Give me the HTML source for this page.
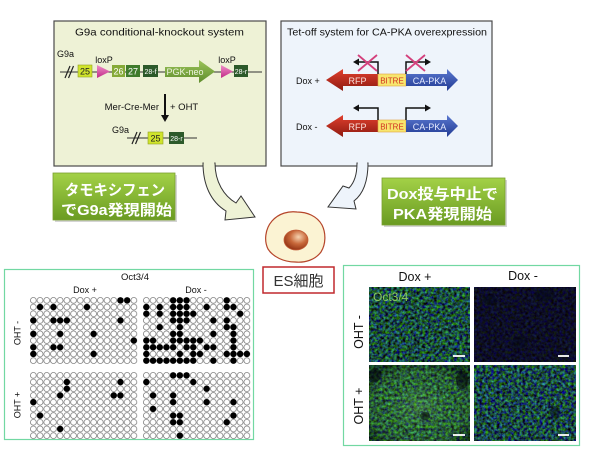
<!DOCTYPE html>
<html><head><meta charset="utf-8"><style>
html,body{margin:0;padding:0;background:#fff;}
svg{display:block;}
</style></head><body>
<svg width="600" height="452" viewBox="0 0 600 452" xmlns="http://www.w3.org/2000/svg" font-family="'Liberation Sans', Arial, sans-serif">
<defs>
  <pattern id="cp" width="1" height="1" patternUnits="userSpaceOnUse"><circle cx="0.5" cy="0.5" r="0.44" fill="#fff" stroke="#6a6a6a" stroke-width="0.1"/></pattern>
  <linearGradient id="gl" x1="0" y1="0" x2="0" y2="1"><stop offset="0" stop-color="#a3d147"/><stop offset="1" stop-color="#6a9b22"/></linearGradient>
  <linearGradient id="red" x1="0" y1="0" x2="0" y2="1"><stop offset="0" stop-color="#e0402e"/><stop offset="1" stop-color="#8e1a10"/></linearGradient>
  <linearGradient id="blue" x1="0" y1="0" x2="0" y2="1"><stop offset="0" stop-color="#5a78d0"/><stop offset="1" stop-color="#213a92"/></linearGradient>
  <linearGradient id="pgk" x1="0" y1="0" x2="0" y2="1"><stop offset="0" stop-color="#9cc45a"/><stop offset="1" stop-color="#5e8c2c"/></linearGradient>
  <linearGradient id="pink" x1="0" y1="0" x2="0" y2="1"><stop offset="0" stop-color="#f090c8"/><stop offset="1" stop-color="#c02a88"/></linearGradient>
  <radialGradient id="nuc" cx="0.6" cy="0.35" r="0.7"><stop offset="0" stop-color="#f6d2b0"/><stop offset="0.5" stop-color="#c8683a"/><stop offset="1" stop-color="#8e2e10"/></radialGradient>
  <filter id="t1" x="0" y="0" width="1" height="1" color-interpolation-filters="sRGB"><feTurbulence type="fractalNoise" baseFrequency="0.35" numOctaves="3" seed="2"/><feColorMatrix values="0.3 0 0 0 -0.05  1.2 0 0 0 -0.3  0 1.2 0 0 -0.35  0 0 0 0 1"/></filter>
  <filter id="t2" x="0" y="0" width="1" height="1" color-interpolation-filters="sRGB"><feTurbulence type="fractalNoise" baseFrequency="0.35" numOctaves="3" seed="7"/><feColorMatrix values="0.1 0 0 0 0  0.25 0 0 0 -0.07  0 0.5 0 0 -0.1  0 0 0 0 1"/></filter>
  <filter id="t3" x="0" y="0" width="1" height="1" color-interpolation-filters="sRGB"><feTurbulence type="fractalNoise" baseFrequency="0.35" numOctaves="3" seed="11"/><feColorMatrix values="0.35 0 0 0 -0.05  1.2 0 0 0 -0.25  0 0.8 0 0 -0.2  0 0 0 0 1"/></filter>
  <filter id="t4" x="0" y="0" width="1" height="1" color-interpolation-filters="sRGB"><feTurbulence type="fractalNoise" baseFrequency="0.35" numOctaves="3" seed="17"/><feColorMatrix values="0.3 0 0 0 -0.05  1.2 0 0 0 -0.32  0 1.2 0 0 -0.32  0 0 0 0 1"/></filter>
  <radialGradient id="blc" cx="0.5" cy="0.55" r="0.6"><stop offset="0" stop-color="#9ad08a" stop-opacity="0.25"/><stop offset="0.6" stop-color="#7ab870" stop-opacity="0.08"/><stop offset="1" stop-color="#000" stop-opacity="0.35"/></radialGradient>
</defs>

<!-- Top-left box -->
<rect x="54" y="21" width="212" height="145" fill="#eef2d6" stroke="#4a4a4a" stroke-width="1.2"/>
<text x="159.5" y="35.5" font-size="10.5" text-anchor="middle" textLength="169" lengthAdjust="spacingAndGlyphs" fill="#111">G9a conditional-knockout system</text>
<text x="57" y="57" font-size="9" fill="#111">G9a</text>
<line x1="60" y1="72" x2="262" y2="72" stroke="#333" stroke-width="1"/>
<line x1="65" y1="78" x2="70" y2="66" stroke="#222" stroke-width="1.2"/><line x1="68.5" y1="78" x2="73.5" y2="66" stroke="#222" stroke-width="1.2"/>
<rect x="78" y="65" width="14" height="12" fill="#d0e42c" stroke="#90a020" stroke-width="0.6"/>
<text x="85" y="74.5" font-size="9" text-anchor="middle" fill="#222">25</text>
<polygon points="97,65 110,71.5 97,78" fill="url(#pink)"/>
<text x="104" y="63" font-size="9" text-anchor="middle" fill="#111">loxP</text>
<rect x="112" y="65" width="13" height="12" fill="#86aa38"/>
<text x="118.5" y="74.5" font-size="9" text-anchor="middle" fill="#fff">26</text>
<rect x="126" y="65" width="14" height="12" fill="#3f7b2c"/>
<text x="133" y="74.5" font-size="9" text-anchor="middle" fill="#fff">27</text>
<rect x="143" y="65" width="15" height="12" fill="#2c5a2a"/>
<text x="150.5" y="74" font-size="7" text-anchor="middle" fill="#fff">28-f</text>
<polygon points="165,67 199,67 199,60 215,71.5 199,83 199,77 165,77" fill="url(#pgk)"/>
<text x="185" y="75" font-size="9" text-anchor="middle" fill="#eef4e0">PGK-neo</text>
<polygon points="221,65 233,71.5 221,78" fill="url(#pink)"/>
<text x="227" y="63" font-size="9" text-anchor="middle" fill="#111">loxP</text>
<rect x="234" y="65" width="14" height="12" fill="#2c5a2a"/>
<text x="241" y="74" font-size="7" text-anchor="middle" fill="#fff">28-r</text>
<line x1="165" y1="94" x2="165" y2="116" stroke="#111" stroke-width="2"/>
<polygon points="161,115 169,115 165,122" fill="#111"/>
<text x="159" y="110" font-size="9.5" text-anchor="end" fill="#111">Mer-Cre-Mer</text>
<text x="170" y="110" font-size="9.5" fill="#111">+ OHT</text>
<text x="112" y="133" font-size="9" fill="#111">G9a</text>
<line x1="127" y1="138" x2="197" y2="138" stroke="#333" stroke-width="1"/>
<line x1="132" y1="144" x2="137" y2="132" stroke="#222" stroke-width="1.2"/><line x1="135.5" y1="144" x2="140.5" y2="132" stroke="#222" stroke-width="1.2"/>
<rect x="148" y="132" width="15" height="12" fill="#d0e42c" stroke="#90a020" stroke-width="0.6"/>
<text x="155.5" y="141.5" font-size="9" text-anchor="middle" fill="#222">25</text>
<rect x="169" y="132" width="15" height="12" fill="#2c5a2a"/>
<text x="176.5" y="141" font-size="7" text-anchor="middle" fill="#fff">28-r</text>

<!-- Top-right box -->
<rect x="281" y="21" width="211" height="145" fill="#eef4fb" stroke="#4a4a4a" stroke-width="1.2"/>
<text x="387" y="35.5" font-size="10.5" text-anchor="middle" textLength="200" lengthAdjust="spacingAndGlyphs" fill="#111">Tet-off system for CA-PKA overexpression</text>
<!-- Dox + -->
<text x="296" y="84" font-size="9" fill="#111">Dox +</text>
<polygon points="326,80 343,69 343,74 378,74 378,86 343,86 343,91" fill="url(#red)"/>
<text x="357.5" y="84" font-size="9" text-anchor="middle" fill="#fbe0dc">RFP</text>
<rect x="378" y="74" width="28" height="12" fill="#f7e66e" stroke="#e0a040" stroke-width="0.6"/>
<text x="392" y="83.5" font-size="8" text-anchor="middle" fill="#d03020">BITRE</text>
<polygon points="406,74 447,74 447,69 458,80 447,91 447,86 406,86" fill="url(#blue)"/>
<text x="429.5" y="84" font-size="9" text-anchor="middle" fill="#e4eaff">CA-PKA</text>
<path d="M378,74 V62 H358" fill="none" stroke="#111" stroke-width="1.5"/>
<polygon points="353,62 359,58.5 359,65.5" fill="#111"/>
<path d="M406,74 V62 H426" fill="none" stroke="#111" stroke-width="1.5"/>
<polygon points="431,62 425,58.5 425,65.5" fill="#111"/>
<g stroke="#d4407c" stroke-width="1.8"><line x1="358" y1="55" x2="377" y2="71"/><line x1="377" y1="55" x2="358" y2="71"/><line x1="406" y1="55" x2="425" y2="71"/><line x1="425" y1="55" x2="406" y2="71"/></g>
<!-- Dox - -->
<text x="296" y="130" font-size="9" fill="#111">Dox -</text>
<polygon points="326,126 343,115 343,120 378,120 378,132 343,132 343,137" fill="url(#red)"/>
<text x="357.5" y="130" font-size="9" text-anchor="middle" fill="#fbe0dc">RFP</text>
<rect x="378" y="120" width="28" height="12" fill="#f7e66e" stroke="#e0a040" stroke-width="0.6"/>
<text x="392" y="129.5" font-size="8" text-anchor="middle" fill="#d03020">BITRE</text>
<polygon points="406,120 447,120 447,115 458,126 447,137 447,132 406,132" fill="url(#blue)"/>
<text x="429.5" y="130" font-size="9" text-anchor="middle" fill="#e4eaff">CA-PKA</text>
<path d="M378,120 V108 H358" fill="none" stroke="#111" stroke-width="1.5"/>
<polygon points="353,108 359,104.5 359,111.5" fill="#111"/>
<path d="M406,120 V108 H426" fill="none" stroke="#111" stroke-width="1.5"/>
<polygon points="431,108 425,104.5 425,111.5" fill="#111"/>

<!-- Curved arrows -->
<path d="M203,163 C203,185 211,202 226,211 L225,220 L255,217 L241,196 L236,203 C224,196 215,182 215,163 Z" fill="#eef2d6" stroke="#333" stroke-width="1"/>
<rect x="203.7" y="161" width="10.6" height="6.5" fill="#eef2d6"/>
<path d="M357,163 C357,175 354,183 349,188 L343,186 L328,207 L356,209 L354,201 C363,194 368,182 368,163 Z" fill="#eef4fb" stroke="#333" stroke-width="1"/>
<rect x="357.7" y="161" width="9.6" height="6.5" fill="#eef4fb"/>

<!-- Green labels -->
<rect x="55" y="175" width="122" height="47" fill="#b8b8b8" opacity="0.6"/>
<rect x="53" y="173" width="122" height="47" fill="url(#gl)" stroke="#7aa030" stroke-width="0.8"/>
<g font-family="'Liberation Sans','Noto Sans CJK JP',sans-serif" font-weight="bold" font-size="15" fill="#fff" text-anchor="middle">
<text x="115" y="195" textLength="100" lengthAdjust="spacingAndGlyphs">タモキシフェン</text>
<text x="116.5" y="215" textLength="111" lengthAdjust="spacingAndGlyphs">でG9a発現開始</text>
</g>
<rect x="384" y="180" width="123" height="47" fill="#b8b8b8" opacity="0.6"/>
<rect x="382" y="178" width="123" height="47" fill="url(#gl)" stroke="#7aa030" stroke-width="0.8"/>
<g font-family="'Liberation Sans','Noto Sans CJK JP',sans-serif" font-weight="bold" font-size="15" fill="#fff" text-anchor="middle">
<text x="442.5" y="199" textLength="111" lengthAdjust="spacingAndGlyphs">Dox投与中止で</text>
<text x="442.5" y="219" textLength="99" lengthAdjust="spacingAndGlyphs">PKA発現開始</text>
</g>

<!-- Cell -->
<path d="M272,221 C279,213 289,211 297,212 C307,212 317,216 322,225 C326,233 326,244 321,252 C315,260 305,263 295,262 C284,262 273,257 268,249 C264,241 265,229 272,221 Z" fill="#fbf3d3" stroke="#b5452a" stroke-width="1.2"/>
<ellipse cx="296" cy="240" rx="12" ry="10" fill="url(#nuc)" stroke="#c05a36" stroke-width="0.8"/>
<rect x="263" y="267" width="71" height="26" fill="#fff" stroke="#c0282d" stroke-width="1.5"/>
<text x="298.5" y="286" font-size="15" text-anchor="middle" fill="#333" font-family="'Liberation Sans','Noto Sans CJK JP',sans-serif">ES細胞</text>

<!-- Bottom-left panel -->
<rect x="4.5" y="269.5" width="249" height="170" fill="#fff" stroke="#72d8a2" stroke-width="1.2"/>
<text x="135" y="280" font-size="9.5" text-anchor="middle" fill="#111">Oct3/4</text>
<text x="85" y="293" font-size="9" text-anchor="middle" fill="#111">Dox +</text>
<text x="196" y="293" font-size="9" text-anchor="middle" fill="#111">Dox -</text>
<text transform="translate(20.5,333) rotate(-90)" font-size="9" text-anchor="middle" fill="#111">OHT -</text>
<text transform="translate(20.5,405) rotate(-90)" font-size="9" text-anchor="middle" fill="#111">OHT +</text>

<g transform="translate(30,297) scale(6.7)">
<rect width="16" height="10" fill="url(#cp)"/>
<g fill="#000">
<circle cx="13.5" cy="0.5" r="0.47"/><circle cx="14.5" cy="0.5" r="0.47"/>
<circle cx="1.5" cy="1.5" r="0.47"/><circle cx="3.5" cy="1.5" r="0.47"/><circle cx="8.5" cy="1.5" r="0.47"/>
<circle cx="0.5" cy="3.5" r="0.47"/><circle cx="3.5" cy="3.5" r="0.47"/><circle cx="4.5" cy="3.5" r="0.47"/><circle cx="5.5" cy="3.5" r="0.47"/><circle cx="13.5" cy="3.5" r="0.47"/>
<circle cx="0.5" cy="5.5" r="0.47"/><circle cx="4.5" cy="5.5" r="0.47"/><circle cx="9.5" cy="5.5" r="0.47"/>
<circle cx="15.5" cy="6.5" r="0.47"/>
<circle cx="0.5" cy="7.5" r="0.47"/><circle cx="3.5" cy="7.5" r="0.47"/><circle cx="4.5" cy="7.5" r="0.47"/>
<circle cx="0.5" cy="8.5" r="0.47"/><circle cx="9.5" cy="8.5" r="0.47"/>
</g></g>

<g transform="translate(143,297) scale(6.7)">
<rect width="16" height="10" fill="url(#cp)"/>
<g fill="#000">
<circle cx="4.5" cy="0.5" r="0.47"/><circle cx="5.5" cy="0.5" r="0.47"/><circle cx="6.5" cy="0.5" r="0.47"/><circle cx="12.5" cy="0.5" r="0.47"/>
<circle cx="0.5" cy="1.5" r="0.47"/><circle cx="2.5" cy="1.5" r="0.47"/><circle cx="4.5" cy="1.5" r="0.47"/><circle cx="5.5" cy="1.5" r="0.47"/><circle cx="6.5" cy="1.5" r="0.47"/><circle cx="9.5" cy="1.5" r="0.47"/><circle cx="12.5" cy="1.5" r="0.47"/><circle cx="13.5" cy="1.5" r="0.47"/>
<circle cx="0.5" cy="2.5" r="0.47"/><circle cx="2.5" cy="2.5" r="0.47"/><circle cx="4.5" cy="2.5" r="0.47"/><circle cx="5.5" cy="2.5" r="0.47"/><circle cx="6.5" cy="2.5" r="0.47"/><circle cx="7.5" cy="2.5" r="0.47"/><circle cx="14.5" cy="2.5" r="0.47"/>
<circle cx="4.5" cy="3.5" r="0.47"/><circle cx="5.5" cy="3.5" r="0.47"/><circle cx="6.5" cy="3.5" r="0.47"/><circle cx="10.5" cy="3.5" r="0.47"/><circle cx="12.5" cy="3.5" r="0.47"/>
<circle cx="2.5" cy="4.5" r="0.47"/><circle cx="5.5" cy="4.5" r="0.47"/><circle cx="12.5" cy="4.5" r="0.47"/><circle cx="13.5" cy="4.5" r="0.47"/>
<circle cx="4.5" cy="5.5" r="0.47"/><circle cx="5.5" cy="5.5" r="0.47"/><circle cx="10.5" cy="5.5" r="0.47"/><circle cx="13.5" cy="5.5" r="0.47"/>
<circle cx="0.5" cy="6.5" r="0.47"/><circle cx="1.5" cy="6.5" r="0.47"/><circle cx="4.5" cy="6.5" r="0.47"/><circle cx="5.5" cy="6.5" r="0.47"/><circle cx="6.5" cy="6.5" r="0.47"/><circle cx="7.5" cy="6.5" r="0.47"/><circle cx="8.5" cy="6.5" r="0.47"/><circle cx="13.5" cy="6.5" r="0.47"/>
<circle cx="0.5" cy="7.5" r="0.47"/><circle cx="1.5" cy="7.5" r="0.47"/><circle cx="2.5" cy="7.5" r="0.47"/><circle cx="3.5" cy="7.5" r="0.47"/><circle cx="4.5" cy="7.5" r="0.47"/><circle cx="6.5" cy="7.5" r="0.47"/><circle cx="7.5" cy="7.5" r="0.47"/><circle cx="9.5" cy="7.5" r="0.47"/><circle cx="10.5" cy="7.5" r="0.47"/><circle cx="13.5" cy="7.5" r="0.47"/>
<circle cx="0.5" cy="8.5" r="0.47"/><circle cx="5.5" cy="8.5" r="0.47"/><circle cx="7.5" cy="8.5" r="0.47"/><circle cx="8.5" cy="8.5" r="0.47"/><circle cx="12.5" cy="8.5" r="0.47"/><circle cx="13.5" cy="8.5" r="0.47"/><circle cx="14.5" cy="8.5" r="0.47"/><circle cx="15.5" cy="8.5" r="0.47"/>
<circle cx="0.5" cy="9.5" r="0.47"/><circle cx="1.5" cy="9.5" r="0.47"/><circle cx="2.5" cy="9.5" r="0.47"/><circle cx="3.5" cy="9.5" r="0.47"/><circle cx="4.5" cy="9.5" r="0.47"/><circle cx="5.5" cy="9.5" r="0.47"/><circle cx="6.5" cy="9.5" r="0.47"/><circle cx="7.5" cy="9.5" r="0.47"/><circle cx="10.5" cy="9.5" r="0.47"/><circle cx="13.5" cy="9.5" r="0.47"/>
</g></g>

<g transform="translate(30,372) scale(6.7)">
<rect width="16" height="10" fill="url(#cp)"/>
<g fill="#000">
<circle cx="5.5" cy="1.5" r="0.47"/><circle cx="13.5" cy="1.5" r="0.47"/>
<circle cx="5.5" cy="2.5" r="0.47"/>
<circle cx="4.5" cy="3.5" r="0.47"/><circle cx="12.5" cy="3.5" r="0.47"/><circle cx="13.5" cy="3.5" r="0.47"/>
<circle cx="0.5" cy="4.5" r="0.47"/>
<circle cx="1.5" cy="6.5" r="0.47"/>
<circle cx="4.5" cy="8.5" r="0.47"/>
</g></g>

<g transform="translate(143,372) scale(6.7)">
<rect width="16" height="10" fill="url(#cp)"/>
<g fill="#000">
<circle cx="4.5" cy="0.5" r="0.47"/><circle cx="5.5" cy="0.5" r="0.47"/><circle cx="6.5" cy="0.5" r="0.47"/>
<circle cx="0.5" cy="1.5" r="0.47"/><circle cx="7.5" cy="1.5" r="0.47"/>
<circle cx="9.5" cy="2.5" r="0.47"/>
<circle cx="1.5" cy="3.5" r="0.47"/><circle cx="4.5" cy="3.5" r="0.47"/>
<circle cx="4.5" cy="4.5" r="0.47"/><circle cx="9.5" cy="4.5" r="0.47"/><circle cx="13.5" cy="4.5" r="0.47"/>
<circle cx="1.5" cy="5.5" r="0.47"/>
<circle cx="4.5" cy="6.5" r="0.47"/><circle cx="5.5" cy="6.5" r="0.47"/><circle cx="13.5" cy="6.5" r="0.47"/>
<circle cx="4.5" cy="7.5" r="0.47"/><circle cx="5.5" cy="7.5" r="0.47"/><circle cx="12.5" cy="7.5" r="0.47"/>
<circle cx="5.5" cy="9.5" r="0.47"/>
</g></g>

<!-- Bottom-right panel -->
<rect x="343.5" y="265.5" width="236" height="180" fill="#fff" stroke="#72d8a2" stroke-width="1.2"/>
<text x="415" y="281" font-size="12.5" text-anchor="middle" fill="#111">Dox +</text>
<text x="523" y="280" font-size="12.5" text-anchor="middle" fill="#111">Dox -</text>
<text transform="translate(363,332) rotate(-90)" font-size="12.5" text-anchor="middle" fill="#111">OHT -</text>
<text transform="translate(363,406) rotate(-90)" font-size="12.5" text-anchor="middle" fill="#111">OHT +</text>

<rect x="369" y="287" width="101" height="75" filter="url(#t1)"/>
<rect x="474" y="287" width="102" height="75" filter="url(#t2)"/>
<g opacity="0.45" fill="#050a18"><ellipse cx="545" cy="295" rx="10" ry="6"/><ellipse cx="520" cy="342" rx="8" ry="6"/><ellipse cx="490" cy="300" rx="7" ry="5"/></g>
<rect x="369" y="365" width="101" height="76" filter="url(#t3)"/>
<rect x="369" y="365" width="101" height="76" fill="url(#blc)"/>
<g opacity="0.6" fill="#050a10"><ellipse cx="462" cy="380" rx="6" ry="9"/><ellipse cx="425" cy="416" rx="5" ry="4"/><ellipse cx="375" cy="375" rx="6" ry="7"/></g>
<rect x="474" y="365" width="102" height="76" filter="url(#t4)"/>
<g opacity="0.5" fill="#050a10"><ellipse cx="555" cy="412" rx="5" ry="6"/></g>
<text x="373" y="301" font-size="12" fill="#8cc860">Oct3/4</text>
<g stroke="#fff" stroke-width="1.8"><line x1="453" y1="356" x2="465" y2="356"/><line x1="558" y1="356" x2="569" y2="356"/><line x1="453" y1="435" x2="465" y2="435"/><line x1="558" y1="435" x2="569" y2="435"/></g>
</svg>
</body></html>
